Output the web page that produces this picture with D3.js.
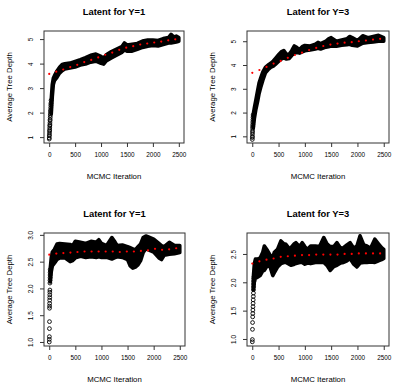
<!DOCTYPE html>
<html>
<head>
<meta charset="utf-8">
<script src="https://cdn.jsdelivr.net/npm/d3@7"></script>
<style>
  body { margin: 0; background: #fff; }
  svg { display: block; font-family: "Liberation Sans", Arial, sans-serif; }
</style>
</head>
<body>
<div id="chart"></div>
<script>
// x ticks are shared by all four panels
const xTicks = [0, 500, 1000, 1500, 2000, 2500]
// red running-mean dots, same iterations in every panel
const meanIter = [1, 136, 271, 406, 541, 676, 811, 946, 1081, 1216, 1351, 1486, 1621, 1756, 1891, 2026, 2161, 2296, 2431]

// top-left: Latent for Y=1
const tlEarlyIter = [1, 2, 3, 5, 6, 8, 9, 11, 12, 14, 15, 17, 18, 20, 22, 23, 25, 27, 29, 31, 33, 36]
const tlEarlyVal = [0.92, 0.97, 1.05, 1.1, 1.18, 1.25, 1.3, 1.38, 1.46, 1.5, 1.58, 1.67, 1.72, 1.8, 1.88, 1.95, 2.04, 2.1, 2.2, 2.3, 2.38, 2.5]
const tlBandIter = [40, 60, 80, 100, 150, 200, 250, 300, 400, 500, 600, 700, 800, 900, 1000, 1050, 1100, 1200, 1300, 1400, 1450, 1500, 1600, 1700, 1800, 1900, 2000, 2100, 2200, 2300, 2350, 2400, 2450, 2500]
const tlHi = [2.55, 3.15, 3.4, 3.5, 3.7, 3.85, 3.96, 3.99, 4.02, 4.09, 4.16, 4.24, 4.34, 4.39, 4.29, 4.22, 4.36, 4.49, 4.59, 4.69, 4.84, 4.76, 4.79, 4.82, 4.92, 4.96, 4.96, 4.94, 5.02, 5.06, 5.19, 5.09, 5.12, 5.06]
const tlLo = [1.95, 2.65, 3.15, 3.3, 3.44, 3.61, 3.71, 3.78, 3.82, 3.86, 3.94, 3.98, 4.06, 4.1, 4.01, 3.98, 4.11, 4.23, 4.34, 4.46, 4.56, 4.51, 4.51, 4.58, 4.66, 4.71, 4.74, 4.72, 4.78, 4.84, 4.84, 4.86, 4.88, 4.91]
const tlMean = [3.58, 3.67, 3.76, 3.86, 3.95, 4.06, 4.15, 4.25, 4.36, 4.45, 4.56, 4.65, 4.71, 4.78, 4.82, 4.86, 4.9, 4.95, 4.99]
const tlYTicks = [1, 2, 3, 4, 5]

// top-right: Latent for Y=3
const trEarlyIter = [1, 2, 3, 4, 5, 6, 7, 8, 9, 10, 12, 14, 16]
const trEarlyVal = [0.87, 0.95, 1.0, 1.1, 1.18, 1.25, 1.35, 1.42, 1.5, 1.6, 1.7, 1.8, 1.9]
const trBandIter = [20, 40, 70, 100, 130, 160, 200, 250, 300, 350, 400, 450, 500, 550, 600, 650, 700, 750, 800, 850, 900, 950, 1000, 1100, 1200, 1250, 1300, 1400, 1450, 1500, 1600, 1700, 1800, 1850, 1900, 2000, 2100, 2200, 2300, 2400, 2500]
const trHi = [1.95, 2.2, 2.55, 2.9, 3.25, 3.45, 3.7, 3.9, 4.0, 4.07, 4.17, 4.3, 4.43, 4.55, 4.61, 4.45, 4.45, 4.6, 4.8, 4.73, 4.65, 4.77, 4.82, 4.8, 4.87, 4.95, 4.9, 5.0, 5.1, 5.15, 5.0, 5.05, 5.1, 5.2, 5.15, 5.03, 5.23, 5.15, 5.2, 5.25, 5.15]
const trLo = [1.35, 1.75, 2.15, 2.45, 2.8, 3.05, 3.35, 3.67, 3.8, 3.9, 3.95, 4.05, 4.15, 4.25, 4.3, 4.25, 4.27, 4.4, 4.5, 4.53, 4.5, 4.55, 4.6, 4.63, 4.67, 4.7, 4.67, 4.75, 4.77, 4.8, 4.79, 4.83, 4.85, 4.87, 4.83, 4.8, 4.92, 4.95, 4.97, 5.0, 5.0]
const trMean = [3.67, 3.79, 3.92, 4.06, 4.17, 4.3, 4.42, 4.52, 4.63, 4.72, 4.8, 4.86, 4.9, 4.94, 4.96, 5.0, 5.03, 5.07, 5.1]
const trYTicks = [1, 2, 3, 4, 5]

// bottom-left: Latent for Y=1
const blEarlyIter = [1, 2, 3, 4, 5, 6, 7, 8, 9, 10, 11, 12, 13, 14, 15, 16, 17, 18, 19]
const blEarlyVal = [1.0, 1.05, 1.1, 1.25, 1.38, 1.63, 1.67, 1.72, 1.78, 1.83, 1.88, 1.93, 1.97, 2.1, 2.15, 2.2, 2.25, 2.3, 2.35]
const blBandIter = [20, 40, 60, 100, 150, 200, 300, 400, 450, 500, 600, 700, 800, 900, 950, 1000, 1100, 1200, 1250, 1300, 1400, 1500, 1550, 1600, 1650, 1700, 1750, 1800, 1850, 1900, 2000, 2100, 2150, 2200, 2300, 2400, 2500]
const blHi = [2.38, 2.58, 2.68, 2.73, 2.83, 2.84, 2.83, 2.82, 2.8, 2.88, 2.86, 2.84, 2.88, 2.86, 2.91, 2.84, 2.8, 2.95, 2.88, 2.8, 2.81, 2.78, 2.76, 2.74, 2.72, 2.78, 2.83, 2.95, 2.98, 2.96, 2.92, 2.84, 2.8, 2.78, 2.86, 2.8, 2.8]
const blLo = [2.12, 2.32, 2.42, 2.47, 2.54, 2.57, 2.57, 2.5, 2.52, 2.57, 2.6, 2.58, 2.59, 2.58, 2.59, 2.58, 2.58, 2.55, 2.57, 2.59, 2.58, 2.54, 2.42, 2.38, 2.4, 2.44, 2.52, 2.67, 2.74, 2.72, 2.68, 2.57, 2.54, 2.62, 2.64, 2.65, 2.67]
const blMean = [2.63, 2.65, 2.66, 2.67, 2.68, 2.69, 2.69, 2.69, 2.69, 2.69, 2.68, 2.69, 2.69, 2.7, 2.71, 2.74, 2.72, 2.73, 2.75]
const blYTicks = [1.0, 1.5, 2.0, 2.5, 3.0]

// bottom-right: Latent for Y=3
const brEarlyIter = [1, 2, 4, 6, 8, 10, 12, 14, 16, 18, 20, 22, 24, 26, 28, 30, 33, 36]
const brEarlyVal = [0.95, 0.99, 1.17, 1.29, 1.39, 1.45, 1.51, 1.57, 1.63, 1.69, 1.75, 1.81, 1.87, 1.92, 1.97, 2.02, 2.07, 2.1]
const brBandIter = [20, 40, 60, 100, 150, 200, 230, 290, 340, 390, 420, 480, 545, 600, 640, 700, 735, 800, 830, 900, 950, 1000, 1050, 1110, 1200, 1280, 1360, 1420, 1480, 1550, 1610, 1680, 1735, 1800, 1860, 1930, 1990, 2050, 2120, 2180, 2250, 2330, 2400, 2460, 2500]
const brHi = [2.08, 2.33, 2.41, 2.41, 2.43, 2.53, 2.64, 2.56, 2.48, 2.44, 2.53, 2.58, 2.73, 2.68, 2.67, 2.6, 2.61, 2.68, 2.7, 2.63, 2.7, 2.63, 2.58, 2.64, 2.64, 2.63, 2.79, 2.68, 2.63, 2.63, 2.7, 2.6, 2.61, 2.66, 2.7, 2.6, 2.64, 2.82, 2.66, 2.64, 2.6, 2.76, 2.68, 2.61, 2.58]
const brLo = [1.87, 2.01, 2.07, 2.09, 2.12, 2.2, 2.21, 2.3, 2.27, 2.12, 2.17, 2.27, 2.33, 2.35, 2.35, 2.32, 2.3, 2.32, 2.33, 2.35, 2.35, 2.32, 2.34, 2.33, 2.35, 2.35, 2.35, 2.3, 2.21, 2.28, 2.3, 2.34, 2.35, 2.38, 2.42, 2.32, 2.27, 2.34, 2.35, 2.35, 2.36, 2.35, 2.38, 2.4, 2.42]
const brMean = [2.33, 2.37, 2.40, 2.42, 2.45, 2.46, 2.47, 2.48, 2.48, 2.49, 2.49, 2.49, 2.49, 2.50, 2.50, 2.51, 2.51, 2.51, 2.51]
const brYTicks = [1.0, 1.5, 2.0, 2.5]

const width = 393, height = 385

const panels = [
  { title: 'Latent for Y=1', box: [44, 31, 184, 143], yDom: [0.76, 5.33], yTicks: tlYTicks, fmt: d3.format('d'),
    earlyIter: tlEarlyIter, earlyVal: tlEarlyVal, bandIter: tlBandIter, hi: tlHi, lo: tlLo, mean: tlMean },
  { title: 'Latent for Y=3', box: [247, 31, 389, 143], yDom: [0.72, 5.43], yTicks: trYTicks, fmt: d3.format('d'),
    earlyIter: trEarlyIter, earlyVal: trEarlyVal, bandIter: trBandIter, hi: trHi, lo: trLo, mean: trMean },
  { title: 'Latent for Y=1', box: [44, 233, 185, 346], yDom: [0.925, 3.035], yTicks: blYTicks, fmt: d3.format('.1f'),
    earlyIter: blEarlyIter, earlyVal: blEarlyVal, bandIter: blBandIter, hi: blHi, lo: blLo, mean: blMean },
  { title: 'Latent for Y=3', box: [247, 233, 389, 346], yDom: [0.876, 2.87], yTicks: brYTicks, fmt: d3.format('.1f'),
    earlyIter: brEarlyIter, earlyVal: brEarlyVal, bandIter: brBandIter, hi: brHi, lo: brLo, mean: brMean }
]

const svg = d3.select('#chart').append('svg')
  .attr('width', width)
  .attr('height', height)

panels.forEach(p => drawPanel(p))

function drawPanel(p) {
  const [x0, y0, x1, y1] = p.box
  const x = d3.scaleLinear().domain([-100, 2600]).range([x0, x1])
  const y = d3.scaleLinear().domain(p.yDom).range([y1, y0])
  const g = svg.append('g')

  // dense part of the trace: envelope of overlapping circles
  const band = p.bandIter.map((it, i) => ({ it, hi: p.hi[i], lo: p.lo[i] }))
  const area = d3.area()
    .x(d => x(d.it))
    .y0(d => y(d.lo))
    .y1(d => y(d.hi))
    .curve(d3.curveLinear)
  g.append('path')
    .datum(band)
    .attr('d', area)
    .attr('fill', '#000')
    .attr('stroke', '#000')
    .attr('stroke-width', 3.6)
    .attr('stroke-linejoin', 'round')

  // first iterations, drawn as open circles
  const early = p.earlyIter.map((it, i) => ({ it, v: p.earlyVal[i] }))
  g.selectAll('circle.early')
    .data(early)
    .enter().append('circle')
      .attr('class', 'early')
      .attr('cx', d => x(d.it))
      .attr('cy', d => y(d.v))
      .attr('r', 1.9)
      .attr('fill', 'none')
      .attr('stroke', '#000')
      .attr('stroke-width', 0.9)

  // running mean
  const mean = meanIter.map((it, i) => ({ it, v: p.mean[i] }))
  g.selectAll('circle.mean')
    .data(mean)
    .enter().append('circle')
      .attr('class', 'mean')
      .attr('cx', d => x(d.it))
      .attr('cy', d => y(d.v))
      .attr('r', 1.1)
      .attr('fill', '#ff0000')

  // box
  g.append('rect')
    .attr('x', x0).attr('y', y0)
    .attr('width', x1 - x0).attr('height', y1 - y0)
    .attr('fill', 'none')
    .attr('stroke', '#333')
    .attr('stroke-width', 1)

  const xAxis = g.append('g')
    .attr('transform', `translate(0,${y1})`)
    .call(d3.axisBottom(x).tickValues(xTicks).tickSize(4).tickPadding(5).tickFormat(d3.format('d')))
  xAxis.select('.domain').remove()
  xAxis.selectAll('line').attr('stroke', '#333')
  xAxis.selectAll('text').attr('font-size', 6.4).attr('fill', '#000').attr('font-family', null)

  const yAxis = g.append('g')
    .attr('transform', `translate(${x0},0)`)
    .call(d3.axisLeft(y).tickValues(p.yTicks).tickSize(4).tickFormat(p.fmt))
  yAxis.select('.domain').remove()
  yAxis.selectAll('line').attr('stroke', '#333')
  // labels sit parallel to the axis, like R's default las = 0
  yAxis.selectAll('.tick text')
    .attr('font-size', 6.4).attr('fill', '#000').attr('font-family', null)
    .attr('text-anchor', 'middle')
    .attr('x', null).attr('dy', null)
    .attr('y', 2.2)
    .attr('transform', 'translate(-13,0) rotate(-90)')

  const cx = (x0 + x1) / 2
  g.append('text')
    .attr('x', cx).attr('y', y0 - 16)
    .attr('text-anchor', 'middle')
    .attr('font-size', 9.4).attr('font-weight', 'bold')
    .attr('fill', '#000')
    .text(p.title)

  g.append('text')
    .attr('x', cx).attr('y', y1 + 36)
    .attr('text-anchor', 'middle')
    .attr('font-size', 7.8).attr('fill', '#000')
    .text('MCMC Iteration')

  g.append('text')
    .attr('transform', `translate(${x0 - 32},${(y0 + y1) / 2}) rotate(-90)`)
    .attr('text-anchor', 'middle')
    .attr('font-size', 7.8).attr('fill', '#000')
    .text('Average Tree Depth')
}
</script>
</body>
</html>
